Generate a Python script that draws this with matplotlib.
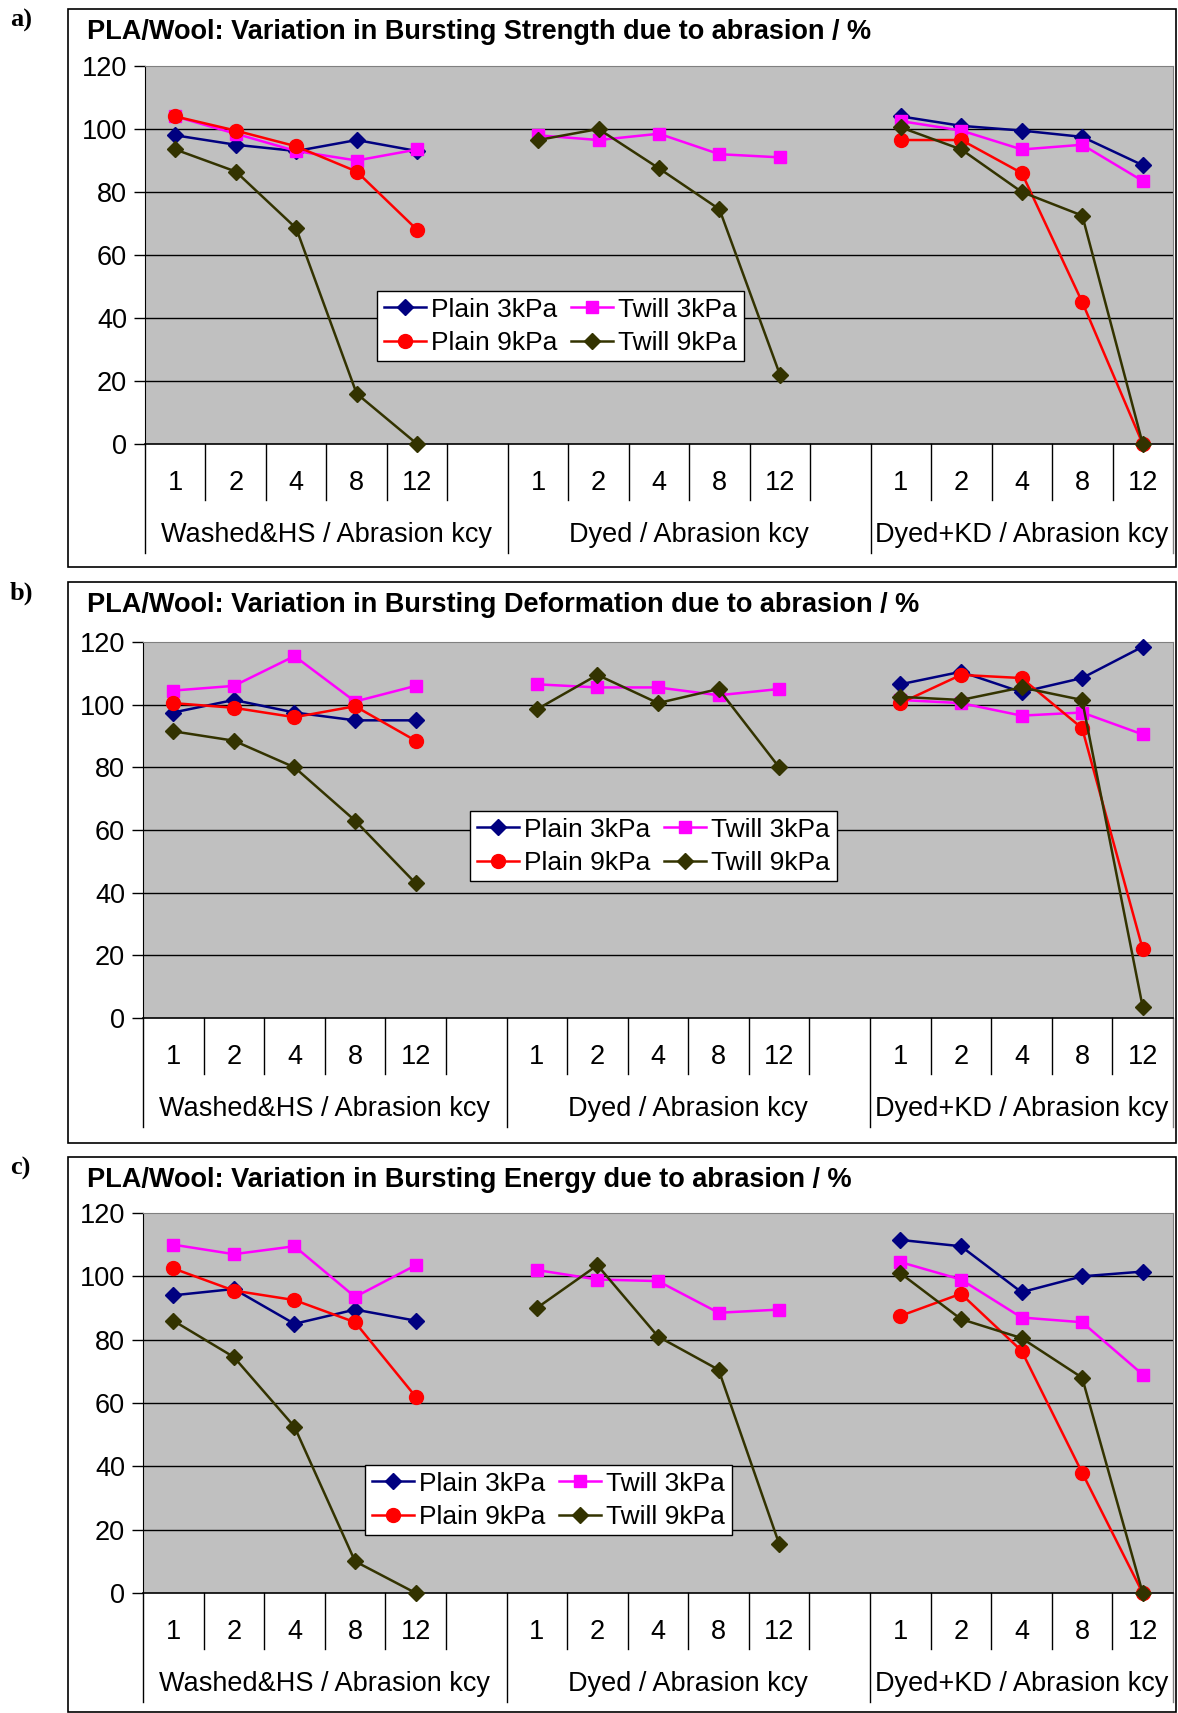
import numpy as np
import matplotlib.pyplot as plt
from matplotlib.patches import Rectangle

plt.rcParams['font.family'] = ['Liberation Sans', 'DejaVu Sans']

# Categories: 3 treatment groups, 5 abrasion levels each (kcy)
groups = ["Washed&HS / Abrasion kcy", "Dyed / Abrasion kcy", "Dyed+KD / Abrasion kcy"]
tick_labels = ["1", "2", "4", "8", "12", "", "1", "2", "4", "8", "12", "", "1", "2", "4", "8", "12"]
series_names = ["Plain 3kPa", "Twill 3kPa", "Plain 9kPa", "Twill 9kPa"]
n = None

# a) Bursting strength
str_plain3 = [98, 95, 93, 96.5, 93, n, n, n, n, n, n, n, 104, 101, 99.5, 97.5, 88.5]
str_twill3 = [104, 98.5, 93, 90, 93.5, n, 98, 96.5, 98.5, 92, 91, n, 102.5, 99.5, 93.5, 95, 83.5]
str_plain9 = [104, 99.5, 94.5, 86.5, 68, n, n, n, n, n, n, n, 96.5, 96.5, 86, 45, 0]
str_twill9 = [93.5, 86.5, 68.5, 16, 0, n, 96.5, 100, 87.5, 74.5, 22, n, 100.5, 93.5, 80, 72.5, 0]

# b) Bursting deformation
def_plain3 = [97.5, 101.5, 97.5, 95, 95, n, n, n, n, n, n, n, 106.5, 110.5, 104, 108.5, 118.5]
def_twill3 = [104.5, 106, 115.5, 101, 106, n, 106.5, 105.5, 105.5, 103, 105, n, 101.5, 100.5, 96.5, 97.5, 90.5]
def_plain9 = [100.5, 99, 96, 99.5, 88.5, n, n, n, n, n, n, n, 100.5, 109.5, 108.5, 92.5, 22]
def_twill9 = [91.5, 88.5, 80, 63, 43, n, 98.5, 109.5, 100.5, 105, 80, n, 102.5, 101.5, 105.5, 101.5, 3.5]

# c) Bursting energy
en_plain3 = [94, 96, 85, 89.5, 86, n, n, n, n, n, n, n, 111.5, 109.5, 95, 100, 101.5]
en_twill3 = [110, 107, 109.5, 93.5, 103.5, n, 102, 99, 98.5, 88.5, 89.5, n, 104.5, 99, 87, 85.5, 69]
en_plain9 = [102.5, 95.5, 92.5, 85.5, 62, n, n, n, n, n, n, n, 87.5, 94.5, 76.5, 38, 0]
en_twill9 = [86, 74.5, 52.5, 10, 0, n, 90, 103.5, 81, 70.5, 15.5, n, 101, 86.5, 80.5, 68, 0]

titles = ["PLA/Wool: Variation in Bursting Strength due to abrasion / %",
          "PLA/Wool: Variation in Bursting Deformation due to abrasion / %",
          "PLA/Wool: Variation in Bursting Energy due to abrasion / %"]
panel_tags = ["a)", "b)", "c)"]
panel_data = [[str_plain3, str_twill3, str_plain9, str_twill9],
              [def_plain3, def_twill3, def_plain9, def_twill9],
              [en_plain3, en_twill3, en_plain9, en_twill9]]

styles = [dict(color="#000080", marker="D", ms=8),
          dict(color="#FF00FF", marker="s", ms=9),
          dict(color="#FF0000", marker="o", ms=10),
          dict(color="#333300", marker="D", ms=8)]

W, H = 1178, 1713
fig = plt.figure(figsize=(W / 100, H / 100), dpi=100)

# pixel layout: box (top, bottom), plot area (left, top, bottom), legend (x, y)
boxes = [(9, 567), (582, 1143), (1157, 1712)]
plots = [(145, 66, 444), (143, 642, 1018), (143, 1213, 1593)]
legends = [(377, 291), (470, 811), (365, 1465)]
plot_right = 1173

x = np.arange(len(tick_labels)) + 0.5

for p in range(3):
    bt, bb = boxes[p]
    fig.patches.append(Rectangle((68 / W, 1 - bb / H), (1176 - 68) / W, (bb - bt) / H,
                                 transform=fig.transFigure, fill=False, ec="black", lw=1.2))
    fig.text(10 / W, 1 - (bt + 11) / H, panel_tags[p], family="Liberation Serif",
             fontweight="bold", fontsize=19, va="center", ha="left")
    fig.text(87 / W, 1 - (bt + 23) / H, titles[p], fontweight="bold", fontsize=19.5,
             va="center", ha="left")

    pl, pt, pb = plots[p]
    ax = fig.add_axes([pl / W, 1 - pb / H, (plot_right - pl) / W, (pb - pt) / H])
    ax.set_facecolor("#C0C0C0")
    hpx = pb - pt

    for vals, name, st in zip(panel_data[p], series_names, styles):
        y = np.array([np.nan if v is None else v for v in vals], dtype=float)
        ax.plot(x, y, color=st["color"], lw=1.8, marker=st["marker"], ms=st["ms"],
                mec=st["color"], label=name, zorder=3, clip_on=False)

    ax.set_xlim(0, len(tick_labels))
    ax.set_ylim(0, 120)
    ax.set_yticks(range(0, 121, 20))
    ax.tick_params(axis="y", labelsize=19.5, length=8, width=1, direction="out", pad=5)
    ax.set_xticks([])
    for yy in range(20, 120, 20):
        ax.axhline(yy, color="black", lw=1, zorder=1)
    for s in ["top", "right"]:
        ax.spines[s].set_color("#808080")
    ax.spines["left"].set_color("black")
    ax.spines["bottom"].set_color("black")
    ax.spines["bottom"].set_linewidth(1.2)

    tr = ax.get_xaxis_transform()
    for b in range(1, len(tick_labels)):
        if b in (6, 12):
            continue
        ax.plot([b, b], [0, -56 / hpx], transform=tr, color="black", lw=1, clip_on=False)
    for b in (0, 6, 12, 17):
        ax.plot([b, b], [0, -109 / hpx], transform=tr,
                color="#808080" if b == 17 else "black", lw=1, clip_on=False)
    for xi, lab in zip(x, tick_labels):
        ax.text(xi, -39 / hpx, lab, transform=tr, ha="center", va="center", fontsize=19.5)
    for gi, g in enumerate(groups):
        cx = [3, 9, 14.5][gi]
        ax.text(cx, -91 / hpx, g, transform=tr, ha="center", va="center", fontsize=19.5)

    lx, ly = legends[p]
    handles, labels = ax.get_legend_handles_labels()
    order = [0, 2, 1, 3]
    leg = ax.legend([handles[i] for i in order], [labels[i] for i in order], ncol=2,
                    loc="upper left", bbox_to_anchor=((lx - pl) / (plot_right - pl), (pb - ly) / hpx),
                    fontsize=19, frameon=True, fancybox=False, framealpha=1, edgecolor="black",
                    borderpad=0.25, borderaxespad=0, handlelength=1.6, handletextpad=0.2,
                    columnspacing=0.5, labelspacing=0.35)
    leg.get_frame().set_linewidth(1)

fig.savefig("out.png", dpi=100)
